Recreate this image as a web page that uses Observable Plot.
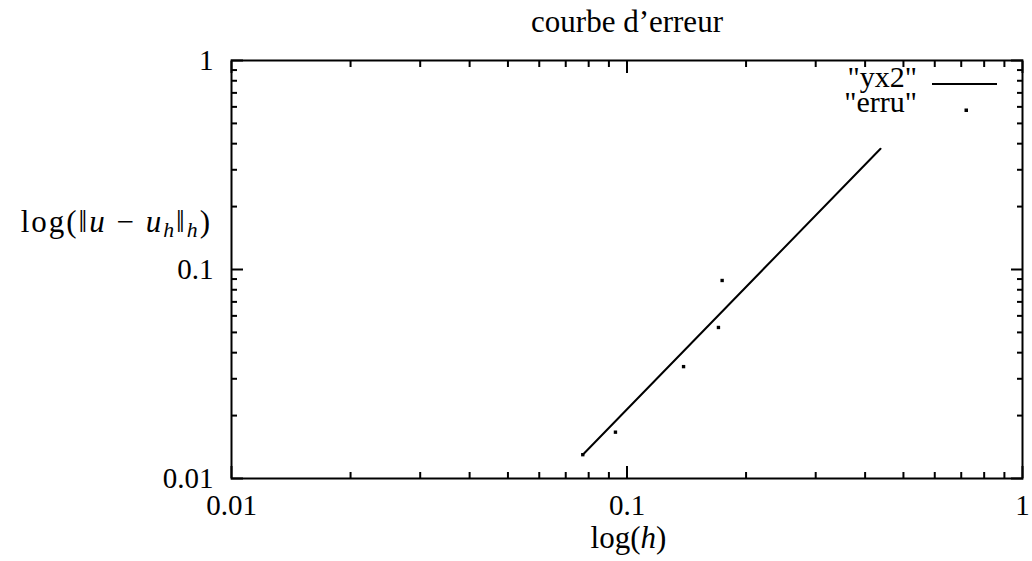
<!DOCTYPE html>
<html>
<head>
<meta charset="utf-8">
<script src="https://cdn.jsdelivr.net/npm/d3@7"></script>
<script src="https://cdn.jsdelivr.net/npm/@observablehq/plot@0.6"></script>
<style>
  html, body { margin: 0; padding: 0; background: #fff; }
  svg text, svg tspan { font-family: "Liberation Serif", "DejaVu Serif", serif !important; }
</style>
</head>
<body>
<div id="chart"></div>
<script>
// ---- data ----
const titleText = ["courbe d\u2019erreur"];
// series "yx2" (straight reference line)
const yx2H = [0.0773, 0.4375];
const yx2E = [0.0130, 0.378];
// series "erru" (points)
const erruH = [0.0773, 0.0935, 0.139, 0.1703, 0.174];
const erruE = [0.0130, 0.01666, 0.0343, 0.0528, 0.0886];
// ticks
const majorTicks = [0.01, 0.1, 1];
const majorLabels = ["0.01", "0.1", "1"];
const minorTicks = [0.02, 0.03, 0.04, 0.05, 0.06, 0.07, 0.08, 0.09, 0.2, 0.3, 0.4, 0.5, 0.6, 0.7, 0.8, 0.9];
const legendNames = ["\"yx2\"", "\"erru\""];

const lineData = yx2H.map((h, i) => ({h, e: yx2E[i]}));
const pointData = erruH.map((h, i) => ({h, e: erruE[i]}));
const fmt = d => majorLabels[majorTicks.indexOf(d)];

const FS = 29;   // tick labels
const LS = 31;   // titles / labels
const GS = 30;   // legend
const W = 1032, H = 561;
const mL = 231, mR = 10, mT = 60, mB = 83;

const tickAxes = [];
for (const [anchor, k] of [["bottom","x"],["top","x"],["left","y"],["right","y"]]) {
  for (const [vals, len] of [[majorTicks, 12], [minorTicks, 6]]) {
    const off = (anchor === "bottom" || anchor === "right") ? -len : len;
    const opts = {anchor, ticks: vals, tickSize: len, tickFormat: () => "", label: null, strokeWidth: 2};
    if (k === "x") { opts.dy = off; tickAxes.push(Plot.axisX(opts)); }
    else { opts.dx = off; tickAxes.push(Plot.axisY(opts)); }
  }
}

const plot = Plot.plot({
  width: W, height: H,
  marginLeft: mL, marginRight: mR, marginTop: mT, marginBottom: mB,
  style: {fontSize: FS + "px", color: "#000", background: "#fff"},
  x: {type: "log", domain: [0.01, 1]},
  y: {type: "log", domain: [0.01, 1]},
  marks: [
    ...tickAxes,
    Plot.axisX({anchor: "bottom", ticks: majorTicks, tickSize: 0, tickPadding: 16, tickFormat: fmt, label: null, fontSize: FS}),
    Plot.axisY({anchor: "left", ticks: majorTicks, tickSize: 0, tickPadding: 18, tickFormat: fmt, label: null, fontSize: FS}),
    Plot.line(lineData, {x: "h", y: "e", stroke: "#000", strokeWidth: 2}),
    Plot.dot(pointData, {x: "h", y: "e", symbol: "square", r: 1.9, fill: "#000", stroke: "none"}),
    Plot.text(titleText, {frameAnchor: "top", dy: -29, lineAnchor: "bottom", fontSize: LS, text: d => d}),
    Plot.frame({stroke: "#000", strokeWidth: 2})
  ]
});

document.getElementById("chart").appendChild(plot);

// ---- axis labels with math italics & legend ----
const svg = d3.select(plot.tagName === "svg" ? plot : plot.querySelector("svg"));
const xs = plot.scale("x");
const xMid = (xs.apply(0.01) + xs.apply(1)) / 2;

const xl = svg.append("text").attr("x", xMid + 2).attr("y", H - 13)
  .attr("text-anchor", "middle").attr("font-size", LS).attr("fill", "#000");
xl.append("tspan").text("log(");
xl.append("tspan").attr("font-style", "italic").text("h");
xl.append("tspan").text(")");

const yl = svg.append("text").attr("x", mL - 19).attr("y", 232)
  .attr("text-anchor", "end").attr("font-size", LS).attr("fill", "#000")
  .style("letter-spacing", "2px");
yl.append("tspan").text("log(\u2016");
yl.append("tspan").attr("font-style", "italic").text("u");
yl.append("tspan").text("\u2005\u2212\u2005");
yl.append("tspan").attr("font-style", "italic").text("u");
yl.append("tspan").attr("font-style", "italic").attr("font-size", LS * 0.7).attr("dy", 5).text("h");
yl.append("tspan").attr("dy", -5).text("\u2016");
yl.append("tspan").attr("font-style", "italic").attr("font-size", LS * 0.7).attr("dy", 5).text("h");
yl.append("tspan").attr("dy", -5).text(")");

// legend
const lgX = W - mR - 105;
svg.append("text").attr("x", lgX).attr("y", 87).attr("text-anchor", "end")
  .attr("font-size", GS).attr("fill", "#000").text(legendNames[0]);
svg.append("line").attr("x1", lgX + 15).attr("x2", lgX + 80).attr("y1", 84).attr("y2", 84)
  .attr("stroke", "#000").attr("stroke-width", 2);
svg.append("text").attr("x", lgX).attr("y", 112).attr("text-anchor", "end")
  .attr("font-size", GS).attr("fill", "#000").text(legendNames[1]);
svg.append("rect").attr("x", lgX + 47.5).attr("y", 108.5).attr("width", 3.5).attr("height", 3.5).attr("fill", "#000");
</script>
</body>
</html>
